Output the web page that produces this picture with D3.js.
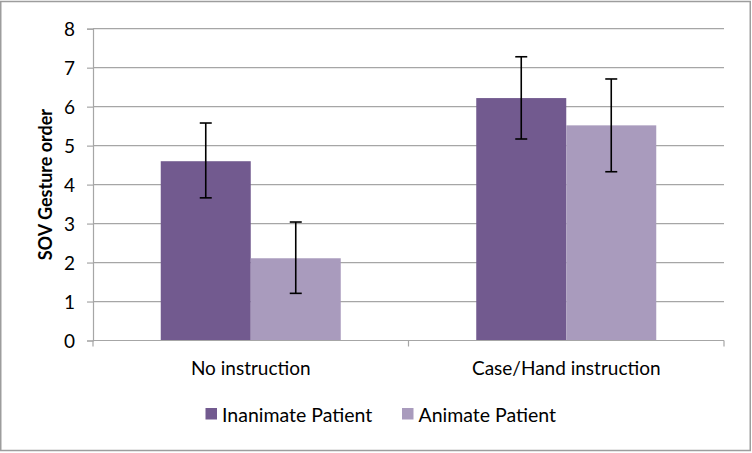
<!DOCTYPE html>
<html>
<head>
<meta charset="utf-8">
<script src="https://cdnjs.cloudflare.com/ajax/libs/d3/7.8.5/d3.min.js"></script>
<style>
  body { margin: 0; background: #fff; }
  text { font-family: Lato, "Open Sans", sans-serif; fill: #000; }
</style>
</head>
<body>
<div id="chart"></div>
<script>
// data
var categories = ["No instruction", "Case/Hand instruction"];
var seriesNames = ["Inanimate Patient", "Animate Patient"];
var inanimate = [4.6, 6.22];
var animate = [2.11, 5.52];
var inanimateLow = [3.66, 5.17];
var inanimateHigh = [5.58, 7.28];
var animateLow = [1.21, 4.33];
var animateHigh = [3.04, 6.71];
var yTicks = [0, 1, 2, 3, 4, 5, 6, 7, 8];

var colors = ["#725a8f", "#a99bbd"];

var w = 752, h = 453;
var plotLeft = 93, plotRight = 724, plotTop = 28.7, plotBottom = 340.5;

var svg = d3.select("#chart")
  .append("svg")
  .attr("width", w)
  .attr("height", h);

// outer frame
svg.append("rect")
  .attr("x", 0.75)
  .attr("y", 1.5)
  .attr("width", 749.5)
  .attr("height", 449)
  .attr("fill", "#fff")
  .attr("stroke", "#9d9d9d")
  .attr("stroke-width", 1.5);

var x = d3.scaleBand()
  .domain(categories)
  .range([plotLeft, plotRight]);

// each bar is ~90px wide, the pair centred in its category
var sub = d3.scaleBand()
  .domain(seriesNames)
  .range([x.bandwidth() / 2 - 90, x.bandwidth() / 2 + 90]);

var y = d3.scaleLinear()
  .domain([0, 8])
  .range([plotBottom, plotTop]);

// gridlines
svg.append("g")
  .selectAll("line")
  .data(yTicks.slice(1))
  .enter().append("line")
  .attr("x1", plotLeft)
  .attr("x2", plotRight)
  .attr("y1", function(d) { return y(d); })
  .attr("y2", function(d) { return y(d); })
  .attr("stroke", "#a6a6a6")
  .attr("stroke-width", 1.2);

// y axis
var yAxis = svg.append("g")
  .attr("transform", "translate(" + plotLeft + ",0)")
  .call(d3.axisLeft(y).tickValues(yTicks).tickSize(6).tickPadding(12).tickFormat(d3.format("d")));
yAxis.select(".domain").attr("stroke", "#a6a6a6").attr("stroke-width", 1.2);
yAxis.selectAll(".tick line").attr("stroke", "#a6a6a6").attr("stroke-width", 1.2);
yAxis.selectAll(".tick text")
  .attr("font-size", "19px")
  .attr("font-family", "Lato, sans-serif")
  .attr("fill", "#000")
  .attr("dy", "0.36em");

svg.append("text")
  .attr("transform", "translate(52," + (plotTop + plotBottom) / 2 + ") rotate(-90)")
  .attr("text-anchor", "middle")
  .attr("font-size", "18px")
  .attr("font-weight", "bold")
  .text("SOV Gesture order");

// bars
var rows = [];
categories.forEach(function(c, i) {
  rows.push({ cat: c, s: seriesNames[0], v: inanimate[i], lo: inanimateLow[i], hi: inanimateHigh[i], color: colors[0] });
  rows.push({ cat: c, s: seriesNames[1], v: animate[i], lo: animateLow[i], hi: animateHigh[i], color: colors[1] });
});

svg.append("g")
  .selectAll("rect")
  .data(rows)
  .enter().append("rect")
  .attr("x", function(d) { return x(d.cat) + sub(d.s); })
  .attr("y", function(d) { return y(d.v); })
  .attr("width", sub.bandwidth())
  .attr("height", function(d) { return y(0) - y(d.v); })
  .attr("fill", function(d) { return d.color; });

// x axis
svg.append("line")
  .attr("x1", plotLeft).attr("x2", plotRight)
  .attr("y1", plotBottom).attr("y2", plotBottom)
  .attr("stroke", "#a6a6a6").attr("stroke-width", 1.2);

svg.append("g")
  .selectAll("line")
  .data([plotLeft, x(categories[1]), plotRight])
  .enter().append("line")
  .attr("x1", function(d) { return d; })
  .attr("x2", function(d) { return d; })
  .attr("y1", plotBottom)
  .attr("y2", plotBottom + 6)
  .attr("stroke", "#a6a6a6").attr("stroke-width", 1.2);

svg.append("g")
  .selectAll("text")
  .data(categories)
  .enter().append("text")
  .attr("x", function(d) { return x(d) + x.bandwidth() / 2; })
  .attr("y", 375)
  .attr("text-anchor", "middle")
  .attr("font-size", "19px")
  .text(function(d) { return d; });

// error bars
var err = svg.append("g")
  .attr("stroke", "#000")
  .attr("stroke-width", 1.6);

rows.forEach(function(d) {
  var cx = x(d.cat) + sub(d.s) + sub.bandwidth() / 2;
  err.append("line")
    .attr("x1", cx).attr("x2", cx)
    .attr("y1", y(d.hi)).attr("y2", y(d.lo));
  err.append("line")
    .attr("x1", cx - 6).attr("x2", cx + 6)
    .attr("y1", y(d.hi)).attr("y2", y(d.hi));
  err.append("line")
    .attr("x1", cx - 6).attr("x2", cx + 6)
    .attr("y1", y(d.lo)).attr("y2", y(d.lo));
});

// legend
var legendX = [205.5, 402];
var legend = svg.append("g")
  .selectAll("g")
  .data(seriesNames)
  .enter().append("g")
  .attr("transform", function(d, i) { return "translate(" + legendX[i] + ",408)"; });

legend.append("rect")
  .attr("width", 11.5)
  .attr("height", 11.5)
  .attr("fill", function(d, i) { return colors[i]; });

legend.append("text")
  .attr("x", 16.5)
  .attr("y", 13.5)
  .attr("font-size", "19.5px")
  .text(function(d) { return d; });
</script>
</body>
</html>
